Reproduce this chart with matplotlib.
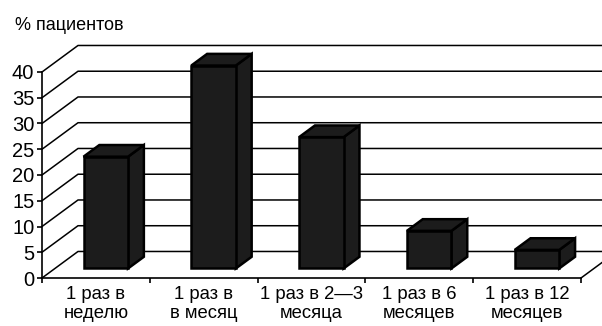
import matplotlib.pyplot as plt
import numpy as np
from matplotlib.patches import Polygon

plt.rcParams['font.family'] = ['Liberation Sans Narrow', 'Liberation Sans', 'DejaVu Sans']

# Частота визитов и доля пациентов
categories = ['1 раз в\nнеделю', '1 раз в\nв месяц', '1 раз в 2\u20143\nмесяца',
              '1 раз в 6\nмесяцев', '1 раз в 12\nмесяцев']
values = [21.7, 39.4, 25.5, 7.3, 3.6]
y_ticks = [0, 5, 10, 15, 20, 25, 30, 35, 40]

# глубина "3D" (сдвиг задней стенки) в единицах осей
DX = 0.334
DY = 5.15
# положение столбика по глубине и его ширина
f0, f1 = 0.36, 0.80
bar_w = 0.413
bar_left = 0.385
bar_color = '#1c1c1c'

fig = plt.figure(figsize=(6.02, 3.26), dpi=100)
ax = fig.add_axes([42 / 602, 48 / 326, 539 / 602, 206 / 326])
ax.set_xlim(0, 5)
ax.set_ylim(0, 40)

for s in ['top', 'right']:
    ax.spines[s].set_visible(False)
ax.spines['left'].set_linewidth(1.2)
ax.spines['bottom'].set_linewidth(1.2)

ax.set_yticks(y_ticks)
ax.tick_params(axis='y', direction='out', length=3.5, width=1.2, pad=2, labelsize=14.5)
ax.set_xticks(np.arange(0, 6))
ax.set_xticklabels([])
ax.tick_params(axis='x', which='major', direction='out', length=3.5, width=1.2)
ax.set_xticks(np.arange(len(categories)) + 0.5, minor=True)
ax.set_xticklabels(categories, minor=True, fontsize=13.3, linespacing=1.12)
ax.tick_params(axis='x', which='minor', length=0, pad=6)

# задняя и левая стенки
x_end = 5 + DX + 1
for v in y_ticks:
    ax.plot([0, DX, x_end], [v, v + DY, v + DY], color='black', lw=1.1,
            clip_on=False, zorder=1)
ax.plot([5, 5 + DX], [0, DY], color='black', lw=1.1, clip_on=False, zorder=1)

# столбики
for i, v in enumerate(values):
    x0 = i + bar_left
    x1 = x0 + bar_w
    yb = f0 * DY
    yt = yb + v
    dx = (f1 - f0) * DX
    dy = (f1 - f0) * DY
    front = [(x0, yb), (x1, yb), (x1, yt), (x0, yt)]
    top = [(x0, yt), (x1, yt), (x1 + dx, yt + dy), (x0 + dx, yt + dy)]
    side = [(x1, yb), (x1 + dx, yb + dy), (x1 + dx, yt + dy), (x1, yt)]
    for pts in (side, top, front):
        ax.add_patch(Polygon(pts, closed=True, facecolor=bar_color,
                             edgecolor='black', lw=1.8, joinstyle='miter',
                             clip_on=False, zorder=3))

fig.text(15 / 602, 1 - 30 / 326, '% пациентов', fontsize=13, va='baseline')

fig.savefig('out.png', dpi=100)
